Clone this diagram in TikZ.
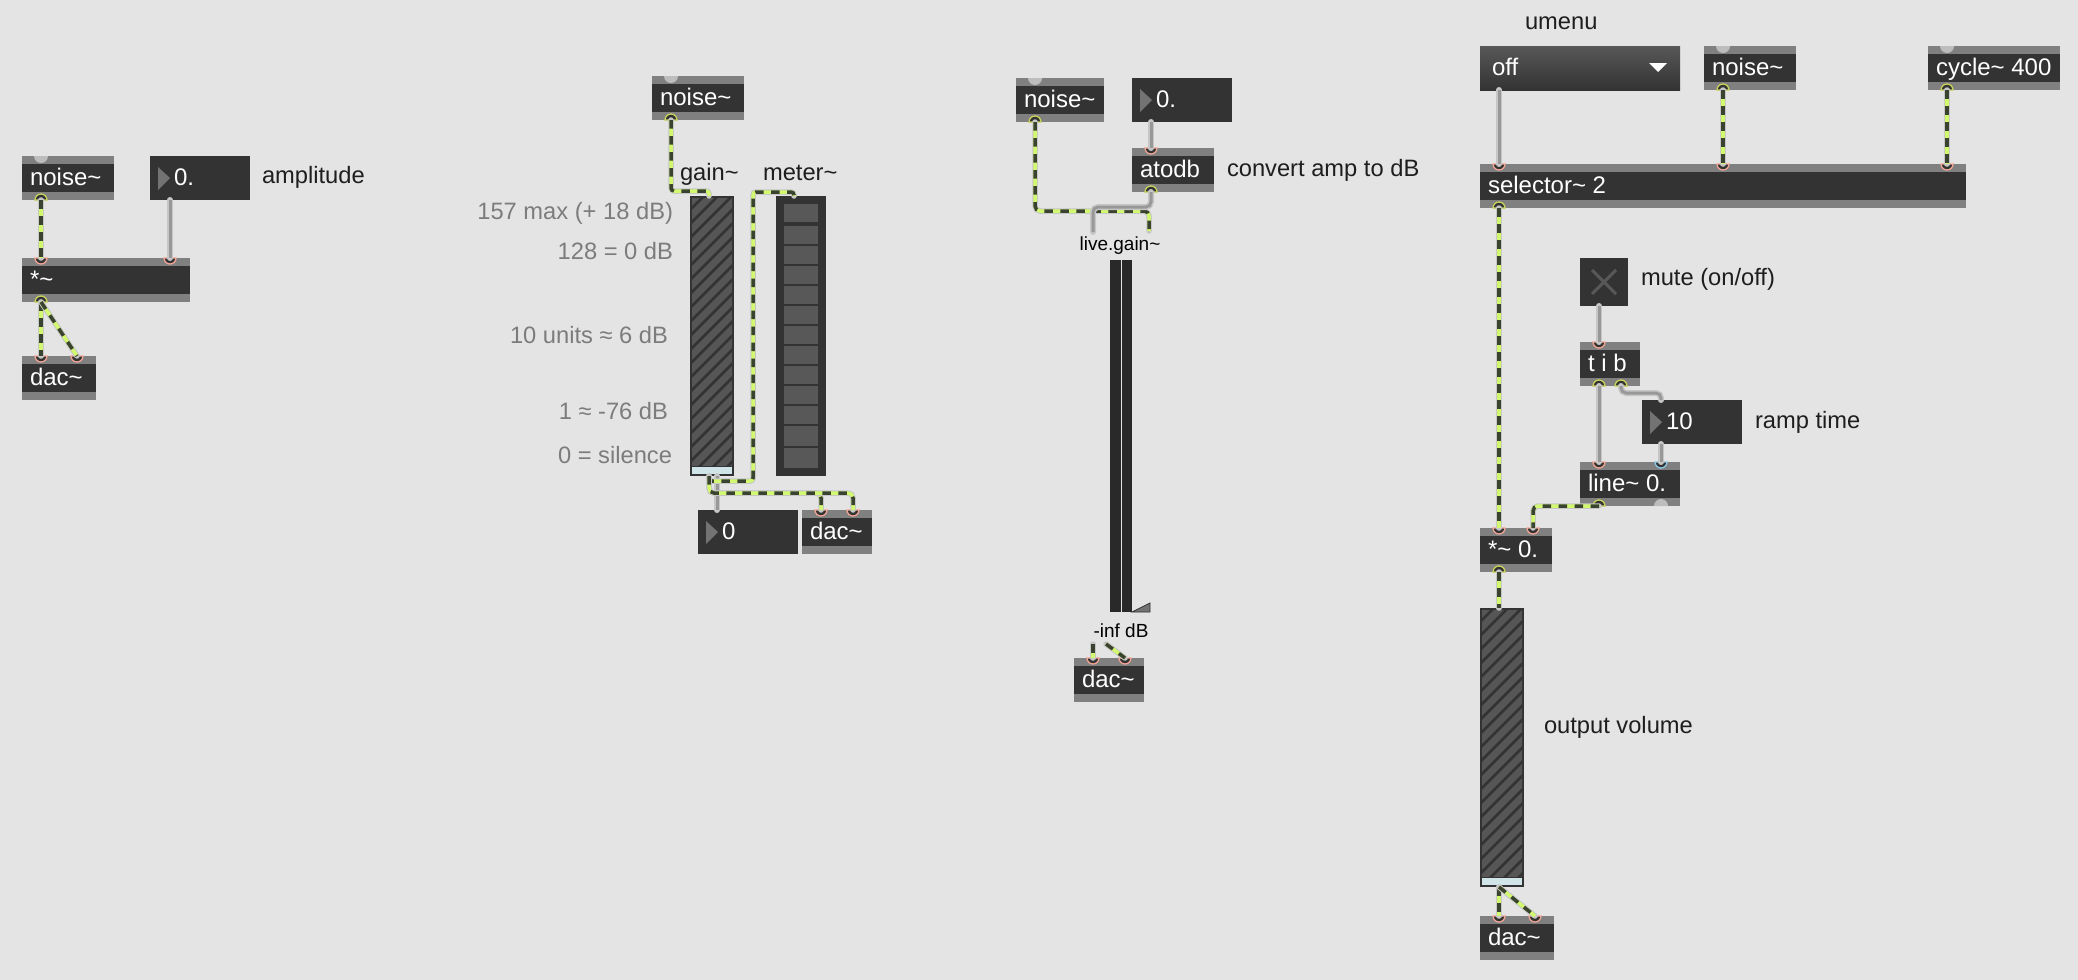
\documentclass[tikz,border=0pt]{standalone}
\usepackage{fontspec}
\setmainfont{Liberation Sans}
\usetikzlibrary{calc}
\definecolor{bgc}{HTML}{E4E4E4}
\definecolor{objdark}{HTML}{333333}
\definecolor{objband}{HTML}{808080}
\definecolor{portsal}{HTML}{F0A494}
\definecolor{portyel}{HTML}{C8D25A}
\definecolor{portblu}{HTML}{8CC8E6}
\definecolor{portgry}{HTML}{BDBDBD}
\definecolor{sigyel}{HTML}{D2F870}
\definecolor{sigdark}{HTML}{3A4230}
\definecolor{haloc}{HTML}{C6C6C6}
\definecolor{wiregry}{HTML}{989898}
\definecolor{labelc}{HTML}{1E1E1E}
\definecolor{graytxt}{HTML}{7C7C7C}
\definecolor{ledc}{HTML}{585858}
\definecolor{knobc}{HTML}{CFE5E8}
\definecolor{hatchbg}{HTML}{565656}
\definecolor{trigry}{HTML}{737373}
\tikzset{
  objbox/.style={anchor=north west,inner sep=0pt,outer sep=0pt,minimum height=44pt,
    text=white,text height=20pt,text depth=5pt,font=\fontsize{24}{28}\selectfont,
    fill=objband,
    path picture={\fill[objdark] ($(path picture bounding box.north west)+(0pt,-8pt)$) rectangle ($(path picture bounding box.south east)+(0pt,8pt)$);}},
  numbox/.style={anchor=north west,inner sep=0pt,outer sep=0pt,minimum height=44pt,
    text=white,text height=20pt,text depth=5pt,font=\fontsize{24}{28}\selectfont,fill=objdark},
  darkblock/.style={anchor=north west,inner sep=0pt,outer sep=0pt,fill=objdark},
  labeltxt/.style={anchor=base west,inner sep=0pt,outer sep=0pt,text=labelc,font=\fontsize{23.7}{28}\selectfont},
  graylab/.style={anchor=base east,inner sep=0pt,outer sep=0pt,text=graytxt,font=\fontsize{23.7}{28}\selectfont},
  smalllab/.style={anchor=base,inner sep=0pt,outer sep=0pt,text=black,font=\fontsize{19}{22}\selectfont},
  sigw/.style={line width=3.5pt,draw=sigyel,rounded corners=5pt,
    preaction={draw=haloc,line width=5.5pt,line cap=round},
    postaction={draw=sigdark,line width=3.5pt,dash pattern=on 8.5pt off 7.5pt}},
  msgw/.style={line width=3pt,draw=wiregry,rounded corners=5pt,
    preaction={draw=haloc,line width=6pt,line cap=round}},
}
\newcommand{\mobj}[5]{\node[objbox,minimum width=#4pt] (#1) at (#2,#3) {\makebox[#4pt][l]{\hspace{8pt}#5}};}
\newcommand{\mnum}[5]{\node[numbox,minimum width=#4pt] (#1) at (#2,#3) {\makebox[#4pt][l]{\hspace{24pt}#5}};
  \fill[trigry] ($(#1.north west)+(8pt,-11pt)$) -- ($(#1.north west)+(20pt,-22pt)$) -- ($(#1.north west)+(8pt,-34pt)$) -- cycle;}
% inlet: name, owner, x offset, colour
\newcommand{\iport}[4]{\coordinate (#1) at ($(#2.north west)+(#3pt,0pt)$);
  \draw[draw=#4,fill=objdark,line width=1.3pt] ($(#1)+(-6pt,0pt)$) arc[start angle=180,end angle=360,radius=6pt] -- cycle;}
\newcommand{\oport}[3]{\coordinate (#1) at ($(#2.south west)+(#3pt,0pt)$);
  \draw[draw=portyel,fill=objdark,line width=1.3pt] ($(#1)+(-6pt,0pt)$) arc[start angle=180,end angle=0,radius=6pt] -- cycle;}
\newcommand{\topgray}[2]{\fill[portgry] ($(#1.north west)+(#2pt,0pt)+(-7pt,0pt)$) arc[start angle=180,end angle=360,radius=7pt] -- cycle;}
\newcommand{\botgray}[2]{\fill[portgry] ($(#1.south west)+(#2pt,0pt)+(-7pt,0pt)$) arc[start angle=180,end angle=0,radius=7pt] -- cycle;}
% slider: name, x, y, w, h
\newcommand{\mslider}[5]{\node[darkblock,minimum width=#4pt,minimum height=#5pt] (#1) at (#2,#3) {};
  \begin{scope}
    \clip (#2+2,#3+2) rectangle (#2+#4-2,#3+#5-11);
    \fill[hatchbg] (#2,#3) rectangle (#2+#4,#3+#5);
    \foreach \k in {0,...,30} \draw[objdark,line width=2.6pt] (#2,{#3+\k*14}) -- (#2+#4,{#3+\k*14-#4});
  \end{scope}
  \fill[knobc] (#2+2,#3+#5-9) rectangle (#2+#4-2,#3+#5-2);}
\begin{document}
\begin{tikzpicture}[x=1pt,y=-1pt]
\useasboundingbox (0,0) rectangle (2078,980);
\fill[bgc] (0,0) rectangle (2078,980);

% --- patch 1
\mobj{nA}{22}{156}{92}{noise\char`~}
\mnum{ampA}{150}{156}{100}{0.}
\node[labeltxt] (ampL) at (262,183) {amplitude};
\mobj{mulA}{22}{258}{168}{*\char`~}
\mobj{dacA}{22}{356}{74}{dac\char`~}
\topgray{nA}{19}
\oport{nAo}{nA}{19}
\iport{mulAi}{mulA}{19}{portsal}
\iport{mulAj}{mulA}{148}{portsal}
\oport{mulAo}{mulA}{19}
\iport{dacAi}{dacA}{19}{portsal}
\iport{dacAj}{dacA}{55}{portsal}
\coordinate (ampAo) at (mulAj |- ampA.south);
\draw[msgw] (ampAo) -- (mulAj);
\draw[sigw] (nAo) -- (mulAi);
\draw[sigw] (mulAo) -- (dacAi);
\draw[sigw] (mulAo) -- (dacAj);

% --- patch 2
\mobj{nB}{652}{76}{92}{noise\char`~}
\topgray{nB}{19}
\oport{nBo}{nB}{19}
\node[labeltxt] (gainL) at (680,180) {gain\char`~};
\node[labeltxt] (meterL) at (763,180) {meter\char`~};
\node[graylab] (tA) at (673,219) {157 max (+ 18 dB)};
\node[graylab] (tB) at (673,259) {128 = 0 dB};
\node[graylab] (tC) at (668,343) {10 units ≈ 6 dB};
\node[graylab] (tD) at (668,419) {1 ≈ -76 dB};
\node[graylab] (tE) at (672,463) {0 = silence};
\mslider{gainB}{690}{196}{44}{280}
\node[darkblock,minimum width=50pt,minimum height=280pt] (meterB) at (776,196) {};
\foreach \a/\b in {204/222,226/244,246/264,266/284,286/304,306/324,326/344,346/364,366/384,386/404,406/424,426/446,448/468}
  \fill[ledc] (784,\a) rectangle (818,\b);
\mnum{numB}{698}{510}{100}{0}
\mobj{dacB}{802}{510}{70}{dac\char`~}
\iport{dacBi}{dacB}{19}{portsal}
\iport{dacBj}{dacB}{51}{portsal}
\coordinate (gainBo) at ($(gainB.south west)+(19pt,0pt)$);
\coordinate (gainBm) at ($(gainB.south west)+(27pt,0pt)$);
\coordinate (numBi) at (gainBm |- numB.north);
\coordinate (gainBin) at ($(gainB.north west)+(19pt,0pt)$);
\coordinate (meterBin) at ($(meterB.north west)+(18pt,0pt)$);
\draw[msgw] (gainBm) -- (numBi);
\draw[sigw,rounded corners=3pt] (nBo) -- (nBo |- 0,191) -- (gainBin |- 0,191) -- (gainBin);
\draw[sigw,rounded corners=3pt] (gainBo) -- (gainBo |- 0,481) -- (753,481) -- (753,192) -- (meterBin |- 0,192) -- (meterBin);
\draw[sigw] (gainBo) -- (gainBo |- 0,493) -- (dacBi |- 0,493) -- (dacBi);
\draw[sigw] (gainBo) -- (gainBo |- 0,493) -- (dacBj |- 0,493) -- (dacBj);

% --- patch 3
\mobj{nC}{1016}{78}{88}{noise\char`~}
\topgray{nC}{19}
\oport{nCo}{nC}{19}
\mnum{numC}{1132}{78}{100}{0.}
\mobj{atodb}{1132}{148}{82}{atodb}
\iport{atodbi}{atodb}{19}{portsal}
\oport{atodbo}{atodb}{19}
\node[labeltxt] (convL) at (1227,176) {convert amp to dB};
\node[smalllab] (lgL) at (1120,250) {live.gain\char`~};
\node[darkblock,fill=objdark!80!black,minimum width=11pt,minimum height=352pt] (lgA) at (1110,260) {};
\node[darkblock,fill=objdark!80!black,minimum width=10pt,minimum height=352pt] (lgB) at (1122,260) {};
\fill[trigry,draw=objdark,line width=0.8pt] (1132,612) -- (1150,603) -- (1150,612) -- cycle;
\node[smalllab] (infL) at (1121,637) {-inf dB};
\mobj{dacC}{1074}{658}{70}{dac\char`~}
\iport{dacCi}{dacC}{19}{portsal}
\iport{dacCj}{dacC}{51}{portsal}
\coordinate (numCo) at (atodbi |- numC.south);
\coordinate (lgLa) at (1093,232);
\coordinate (lgLb) at (1149,231);
\coordinate (lgOa) at (1093,644);
\coordinate (lgOb) at (1106,644);
\draw[sigw] (nCo) -- (nCo |- 0,211) -- (lgLb |- 0,211) -- (lgLb);
\draw[msgw] (numCo) -- (atodbi);
\draw[msgw] (atodbo) -- (atodbo |- 0,207) -- (lgLa |- 0,207) -- (lgLa);
\draw[sigw] (lgOa) -- (dacCi);
\draw[sigw] (lgOb) -- (dacCj);

% --- patch 4
\node[labeltxt] (umenuL) at (1525,29) {umenu};
\node[numbox,top color=objdark!82!white,bottom color=objdark,minimum width=200pt] (umenu) at (1480,46) {\makebox[200pt][l]{\hspace{12pt}off}};
\fill[white] (1649,63) -- (1667,63) -- (1658,72) -- cycle;
\mobj{nD}{1704}{46}{92}{noise\char`~}
\topgray{nD}{19}
\oport{nDo}{nD}{19}
\mobj{cyc}{1928}{46}{132}{cycle\char`~{} 400}
\topgray{cyc}{19}
\oport{cyco}{cyc}{19}
\mobj{sel}{1480}{164}{486}{selector\char`~{} 2}
\iport{seli}{sel}{19}{portsal}
\iport{selj}{sel}{243}{portsal}
\iport{selk}{sel}{467}{portsal}
\oport{selo}{sel}{19}
\node[darkblock,minimum width=48pt,minimum height=48pt] (tog) at (1580,258) {};
\draw[ledc,line width=3pt] (1592,270) -- (1616,294) (1616,270) -- (1592,294);
\node[labeltxt] (muteL) at (1641,285) {mute (on/off)};
\mobj{tib}{1580}{342}{60}{t i b}
\iport{tibi}{tib}{19}{portsal}
\oport{tibo}{tib}{19}
\oport{tibp}{tib}{41}
\mnum{numD}{1642}{400}{100}{10}
\node[labeltxt] (rampL) at (1755,428) {ramp time};
\mobj{lineD}{1580}{462}{100}{line\char`~{} 0.}
\iport{linei}{lineD}{19}{portsal}
\iport{linej}{lineD}{81}{portblu}
\oport{lineo}{lineD}{19}
\botgray{lineD}{81}
\mobj{mulD}{1480}{528}{72}{*\char`~{} 0.}
\iport{muli}{mulD}{19}{portsal}
\iport{mulj}{mulD}{53}{portsal}
\oport{mulo}{mulD}{19}
\mslider{outS}{1480}{608}{44}{279}
\node[labeltxt] (outL) at (1544,733) {output volume};
\mobj{dacD}{1480}{916}{74}{dac\char`~}
\iport{dacDi}{dacD}{19}{portsal}
\iport{dacDj}{dacD}{55}{portsal}
\coordinate (umenuo) at (seli |- umenu.south);
\coordinate (togo) at (tibi |- tog.south);
\coordinate (numDi) at (linej |- numD.north);
\coordinate (numDo) at (linej |- numD.south);
\coordinate (outSi) at (mulo |- outS.north);
\coordinate (outSo) at (mulo |- outS.south);
\draw[msgw] (umenuo) -- (seli);
\draw[sigw] (nDo) -- (selj);
\draw[sigw] (cyco) -- (selk);
\draw[sigw] (selo) -- (muli);
\draw[msgw] (togo) -- (tibi);
\draw[msgw] (tibo) -- (linei);
\draw[msgw] (tibp) -- (tibp |- 0,393) -- (numDi |- 0,393) -- (numDi);
\draw[msgw] (numDo) -- (linej);
\draw[sigw] (lineo) -- (mulj |- lineo) -- (mulj);
\draw[sigw] (mulo) -- (outSi);
\draw[sigw] (outSo) -- (dacDi);
\draw[sigw] (outSo) -- (dacDj);
\end{tikzpicture}
\end{document}
